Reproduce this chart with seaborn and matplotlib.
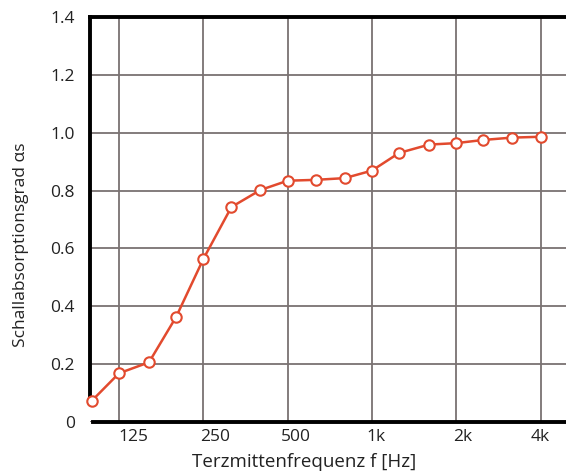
import pandas as pd
import matplotlib
matplotlib.use('Agg')
import matplotlib.pyplot as plt
import matplotlib.transforms as mtransforms
import seaborn as sns

# Terzband-Mittenfrequenzen und gemessener Absorptionsgrad
freqs = [100, 125, 160, 200, 250, 315, 400, 500, 630, 800,
         1000, 1250, 1600, 2000, 2500, 3150, 4000]
alpha_s = [0.073, 0.168, 0.206, 0.363, 0.563, 0.743, 0.802, 0.834, 0.837, 0.843,
           0.869, 0.930, 0.959, 0.964, 0.975, 0.983, 0.986]

tick_freqs = [125, 250, 500, 1000, 2000, 4000]
tick_labels = ['125', '250', '500', '1k', '2k', '4k']
y_ticks = [0, 0.2, 0.4, 0.6, 0.8, 1.0, 1.2, 1.4]
y_labels = ['0', '0.2', '0.4', '0.6', '0.8', '1.0', '1.2', '1.4']

df = pd.DataFrame({'f': freqs, 'alpha': alpha_s})

sns.set_style('white')
plt.rcParams['font.family'] = ['Open Sans', 'DejaVu Sans']

fig = plt.figure(figsize=(5.66, 4.74), dpi=100)
ax = fig.add_axes([0.159, 0.110, 0.841, 0.854])

red = '#e24a2e'
sns.lineplot(data=df, x='f', y='alpha', ax=ax, color=red, linewidth=1.8,
             marker='o', markersize=7.5, markerfacecolor='white',
             markeredgecolor=red, markeredgewidth=1.5, zorder=5, clip_on=False)

ax.set_xscale('log')
ax.set_xlim(98.5, 4930)
ax.set_ylim(0, 1.4)

ax.set_xticks(tick_freqs)
ax.set_xticklabels(tick_labels)
ax.xaxis.set_minor_locator(matplotlib.ticker.NullLocator())
ax.set_yticks(y_ticks)
ax.set_yticklabels(y_labels)
ax.tick_params(axis='both', length=0, labelsize=12.5, colors='#222222')
ax.tick_params(axis='y', pad=11)
ax.tick_params(axis='x', pad=5)

# x-Beschriftungen im Original leicht nach rechts versetzt
shifts = [14, 12, 8, 4, 6, 0]
for lab, dx in zip(ax.get_xticklabels(), shifts):
    off = mtransforms.ScaledTranslation(dx / 100, 0, fig.dpi_scale_trans)
    lab.set_transform(lab.get_transform() + off)

ax.grid(True, color='#7a7272', linewidth=1.3)
ax.set_axisbelow(True)

for side in ['top', 'bottom', 'left']:
    ax.spines[side].set_color('black')
    ax.spines[side].set_linewidth(2.8)
ax.spines['right'].set_visible(False)
ax.spines['left'].set_bounds(0.085, 1.4)
ax.spines['bottom'].set_bounds(101, 4930)

ax.set_xlabel('Terzmittenfrequenz f [Hz]', fontsize=13.5, color='#222222', labelpad=0)
ax.xaxis.set_label_coords(0.45, -0.078)
ax.set_ylabel('Schallabsorptionsgrad \u03b1s', fontsize=12.5, color='#222222')
ax.yaxis.set_label_coords(-0.128, 0.437)

fig.savefig('out.png', dpi=100)
